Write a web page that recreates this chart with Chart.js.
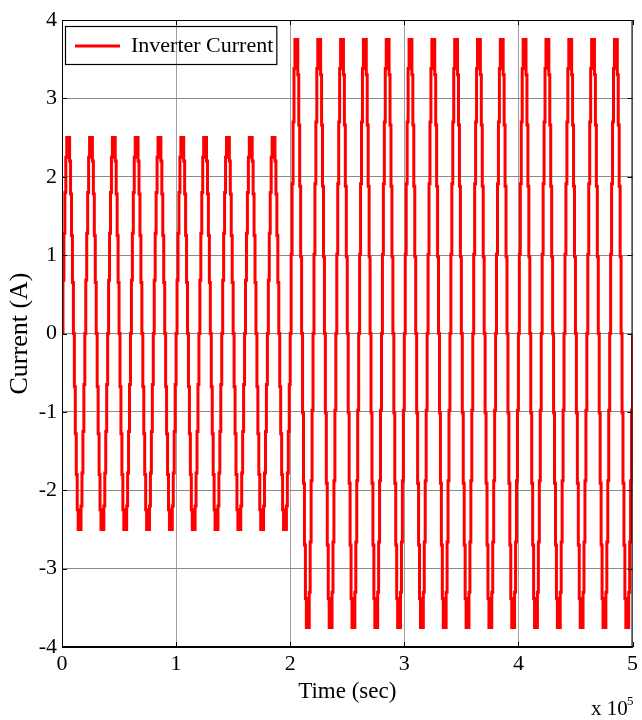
<!DOCTYPE html>
<html>
<head>
<meta charset="utf-8">
<script src="https://cdn.jsdelivr.net/npm/chart.js@4/dist/chart.umd.min.js"></script>
<style>
  html, body { margin: 0; padding: 0; background: #fff; }
  canvas { display: block; }
</style>
</head>
<body>
<canvas id="inv-chart" width="642" height="720"></canvas>
<script>
/* Inverter current, stepped sine: 2.5 A for the first 10 cycles, 3.75 A after the step at t = 2 (x1e5) */
var xTicks = [0, 1, 2, 3, 4, 5];
var yTicks = [-4, -3, -2, -1, 0, 1, 2, 3, 4];
var seriesLabel = 'Inverter Current';
// one cycle of held samples (amps)
var lowCycle = [0, 0.68, 1.28, 1.8, 2.25, 2.5, 2.35, 2.5, 2.2, 1.78, 1.25, 0.65,
  0, -0.68, -1.28, -1.8, -2.25, -2.5, -2.35, -2.5, -2.2, -1.78, -1.25, -0.65];
var highCycle = [0, 1.01, 1.91, 2.7, 3.38, 3.75, 3.47, 3.75, 3.3, 2.66, 1.88, 0.98,
  0, -1.01, -1.91, -2.7, -3.38, -3.75, -3.47, -3.75, -3.3, -2.66, -1.88, -0.98];
var lowCycles = 10;
var highCycles = 15;
var cyclePeriod = 0.2;

function buildSeries() {
  var pts = [];
  var n = 0;
  var dt = cyclePeriod / lowCycle.length;
  var c, k;
  for (c = 0; c < lowCycles; c++) {
    for (k = 0; k < lowCycle.length; k++) { pts.push({ x: n * dt, y: lowCycle[k] }); n++; }
  }
  for (c = 0; c < highCycles; c++) {
    for (k = 0; k < highCycle.length; k++) { pts.push({ x: n * dt, y: highCycle[k] }); n++; }
  }
  pts.push({ x: n * dt, y: 0 });
  return pts;
}

var serif = 'Liberation Serif, Times New Roman, serif';

var framePlugin = {
  id: 'frame',
  afterLayout: function (chart) {
    // legend in chartArea starts at y=0, push it down inside the axes
    var lg = chart.legend;
    if (!lg) return;
    var dy = 22 - lg.top;
    lg.top += dy;
    lg.bottom += dy;
    (lg.legendHitBoxes || []).forEach(function (hb) { hb.top += dy; });
  },
  afterDraw: function (chart) {
    var ctx = chart.ctx;
    var a = chart.chartArea;
    var xs = chart.scales.x, ys = chart.scales.y;
    ctx.save();
    ctx.strokeStyle = '#000';
    ctx.lineWidth = 1;
    ctx.strokeRect(a.left + 0.5, a.top + 0.5, a.right - a.left - 1, a.bottom - a.top);
    ctx.beginPath();
    xTicks.forEach(function (v) {
      var px = Math.round(xs.getPixelForValue(v)) + 0.5;
      ctx.moveTo(px, a.bottom); ctx.lineTo(px, a.bottom - 5);
      ctx.moveTo(px, a.top); ctx.lineTo(px, a.top + 5);
    });
    yTicks.forEach(function (v) {
      var py = Math.round(ys.getPixelForValue(v)) + 0.5;
      ctx.moveTo(a.left, py); ctx.lineTo(a.left + 5, py);
      ctx.moveTo(a.right, py); ctx.lineTo(a.right - 5, py);
    });
    ctx.stroke();
    ctx.lineWidth = 2;
    ctx.beginPath();
    ctx.moveTo(a.left, a.bottom); ctx.lineTo(a.right, a.bottom);
    ctx.stroke();
    // legend frame
    var hb = chart.legend && chart.legend.legendHitBoxes && chart.legend.legendHitBoxes[0];
    if (hb) {
      ctx.lineWidth = 1.2;
      ctx.strokeRect(hb.left - 9.5, hb.top - 8.5, hb.width + 13, hb.height + 16);
    }
    // exponent label
    ctx.fillStyle = '#000';
    ctx.textBaseline = 'alphabetic';
    ctx.textAlign = 'left';
    ctx.font = '21px ' + serif;
    ctx.fillText('x 10', 591, 715);
    ctx.font = '13px ' + serif;
    ctx.fillText('5', 627, 705);
    ctx.restore();
  }
};

var canvas = document.getElementById('inv-chart');
new Chart(canvas, {
  type: 'line',
  data: {
    datasets: [{
      label: seriesLabel,
      data: buildSeries(),
      borderColor: '#ff0000',
      backgroundColor: '#ff0000',
      borderWidth: 3,
      stepped: true,
      pointRadius: 0,
      fill: false
    }]
  },
  options: {
    responsive: false,
    animation: false,
    devicePixelRatio: 1,
    layout: { padding: { top: 20, right: 6, left: 0, bottom: 0 } },
    plugins: {
      tooltip: { enabled: false },
      legend: {
        position: 'chartArea',
        align: 'start',
        labels: {
          boxWidth: 45,
          boxHeight: 3,
          padding: 13,
          color: '#000',
          font: { family: serif, size: 22 },
          generateLabels: function (chart) {
            var items = Chart.defaults.plugins.legend.labels.generateLabels(chart);
            items.forEach(function (it) { it.lineWidth = 0; });
            return items;
          }
        }
      }
    },
    scales: {
      x: {
        type: 'linear',
        min: 0,
        max: 5,
        afterFit: function (s) { s.height = 73; },
        afterBuildTicks: function (s) { s.ticks = xTicks.map(function (v) { return { value: v }; }); },
        ticks: { color: '#000', padding: 4, maxRotation: 0, font: { family: serif, size: 22 } },
        grid: { color: '#a0a0a0', borderDash: [2, 2], drawTicks: false, lineWidth: 1 },
        border: { display: false },
        title: { display: true, text: 'Time (sec)', color: '#000', font: { family: serif, size: 23 }, padding: { top: 0, bottom: 14 } }
      },
      y: {
        min: -4,
        max: 4,
        afterFit: function (s) { s.width = 62; },
        afterBuildTicks: function (s) { s.ticks = yTicks.map(function (v) { return { value: v }; }); },
        ticks: { color: '#000', padding: 5, font: { family: serif, size: 22 } },
        grid: { color: '#8a8a8a', drawTicks: false, lineWidth: 1 },
        border: { display: false },
        title: { display: true, text: 'Current (A)', color: '#000', font: { family: serif, size: 26 }, padding: { top: 5, bottom: 0 } }
      }
    }
  },
  plugins: [framePlugin]
});
</script>
</body>
</html>
